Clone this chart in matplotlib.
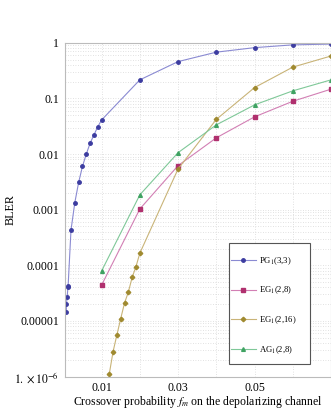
import matplotlib
matplotlib.use("Agg")
import matplotlib.pyplot as plt
from matplotlib.patches import Rectangle
from matplotlib.ticker import FixedLocator, LogLocator, NullFormatter

plt.rcParams['font.family'] = ['Liberation Serif', 'DejaVu Serif']
plt.rcParams['mathtext.fontset'] = 'stix'

# ---- data ----
pg_x = [0.0008, 0.0008, 0.001, 0.0012, 0.00125, 0.002, 0.003, 0.004, 0.005,
        0.006, 0.007, 0.008, 0.009, 0.01, 0.02, 0.03, 0.04, 0.05, 0.06, 0.07]
pg_y = [1.43e-5, 2.0e-5, 2.7e-5, 4.0e-5, 4.3e-5, 4.3e-4, 1.34e-3, 3.1e-3, 6.0e-3,
        1.0e-2, 1.57e-2, 2.21e-2, 3.1e-2, 4.1e-2, 0.216, 0.46, 0.68, 0.82, 0.92, 0.95]

eg8_x = [0.01, 0.02, 0.03, 0.04, 0.05, 0.06, 0.07]
eg8_y = [4.4e-5, 1.03e-3, 6.2e-3, 0.0196, 0.0467, 0.089, 0.147]

eg16_x = [0.012, 0.013, 0.014, 0.015, 0.016, 0.017, 0.018, 0.019, 0.02,
          0.03, 0.04, 0.05, 0.06, 0.07]
eg16_y = [1.1e-6, 2.8e-6, 5.6e-6, 1.1e-5, 2.1e-5, 3.3e-5, 6.1e-5, 9.5e-5, 1.65e-4,
          5.4e-3, 0.042, 0.157, 0.366, 0.58]

ag8_x = [0.01, 0.02, 0.03, 0.04, 0.05, 0.06, 0.07]
ag8_y = [7.9e-5, 1.85e-3, 0.0106, 0.0335, 0.0767, 0.137, 0.216]

labels = [r"PG$_1$(3,3)", r"EG$_1$(2,8)", r"EG$_1$(2,16)", r"AG$_1$(2,8)"]
xticks = [0.01, 0.03, 0.05]
xtick_labels = ["0.01", "0.03", "0.05"]
yticks = [1e-6, 1e-5, 1e-4, 1e-3, 1e-2, 1e-1, 1]
ytick_labels = [r"$1.\times10^{-6}$", "0.00001", "0.0001", "0.001", "0.01", "0.1", "1"]

W, H = 331, 412
fig = plt.figure(figsize=(W / 100, H / 100), dpi=100)
ax = fig.add_axes([0.196, 0.086, 0.804, 0.81])

series = [
    (pg_x, pg_y, '#8a8ad2', '#3c3ca0', 'o', 2.5),
    (eg8_x, eg8_y, '#d27fb4', '#b0306e', 's', 2.3),
    (eg16_x, eg16_y, '#c9b478', '#a08a30', 'D', 2.3),
    (ag8_x, ag8_y, '#7fc898', '#3fa262', '^', 2.7),
]
for (x, y, lc, mc, m, ms), lab in zip(series, labels):
    ax.plot(x, y, color=lc, lw=0.8, marker=m, ms=ms, mfc=mc, mec=mc, label=lab)

ax.set_yscale('log')
ax.set_xlim(0.0004, 0.0700)
ax.set_ylim(1e-6, 1)

ax.xaxis.set_major_locator(FixedLocator(xticks))
ax.set_xticklabels(xtick_labels)
ax.xaxis.set_minor_locator(FixedLocator([0.02, 0.04, 0.06]))
ax.set_yticks(yticks)
ax.set_yticklabels(ytick_labels)
ax.yaxis.set_minor_locator(LogLocator(base=10, subs=range(2, 10)))
ax.yaxis.set_minor_formatter(NullFormatter())

ax.grid(True, which='both', color='#d8d8d8', ls=(0, (1, 2)), lw=0.6)
ax.tick_params(which='both', length=0, labelsize=8.5, pad=4)
for s in ax.spines.values():
    s.set_color('#bbbbbb')
    s.set_linewidth(0.8)

ax.set_xlabel(r"Crossover probability $f_m$ on the depolarizing channel", fontsize=8.5)
ax.xaxis.set_label_coords(0.5, -0.052)
ax.set_ylabel("BLER", fontsize=8.7)
ax.yaxis.set_label_coords(-0.182, 0.5)

# legend box
fig.patches.append(Rectangle((229 / W, 1 - 364 / H), 81 / W, 121 / H,
                             transform=fig.transFigure, fill=True, facecolor='white',
                             edgecolor='#555555', lw=0.8, zorder=3))
leg = fig.legend(loc='upper left', bbox_to_anchor=(231 / W, 1 - 255 / H),
                 bbox_transform=fig.transFigure, fontsize=6.2, frameon=False,
                 labelspacing=2.1, handlelength=2.9, borderpad=0,
                 handletextpad=0.4, borderaxespad=0)
leg.set_zorder(4)

fig.savefig("out.png", dpi=100)
